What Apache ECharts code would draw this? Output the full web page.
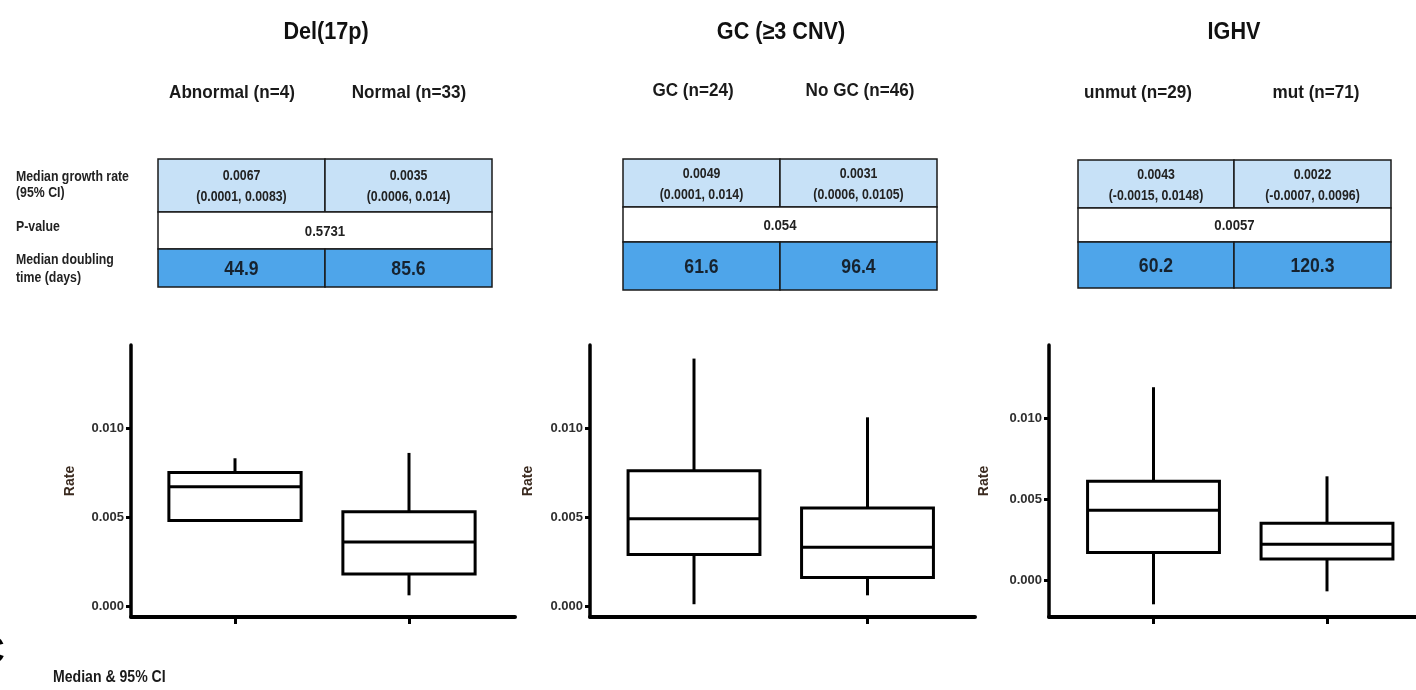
<!DOCTYPE html>
<html><head><meta charset="utf-8">
<script src="https://cdn.jsdelivr.net/npm/echarts@6/dist/echarts.min.js"></script>
<style>html,body{margin:0;padding:0;background:#fff}#c{width:1416px;height:690px}</style>
</head><body><div id="c"></div>
<script>
// ---------- data ----------
const panelTitles = ['Del(17p)', 'GC (≥3 CNV)', 'IGHV'];
const groupLabels = [['Abnormal (n=4)', 'Normal (n=33)'], ['GC (n=24)', 'No GC (n=46)'], ['unmut (n=29)', 'mut (n=71)']];
const medianRate = [['0.0067', '0.0035'], ['0.0049', '0.0031'], ['0.0043', '0.0022']];
const rateCI = [['(0.0001, 0.0083)', '(0.0006, 0.014)'], ['(0.0001, 0.014)', '(0.0006, 0.0105)'], ['(-0.0015, 0.0148)', '(-0.0007, 0.0096)']];
const pValues = ['0.5731', '0.054', '0.0057'];
const doublingDays = [['44.9', '85.6'], ['61.6', '96.4'], ['60.2', '120.3']];
const rowLabels = [['Median growth rate', '(95% CI)'], ['P-value'], ['Median doubling', 'time (days)']];
const yTicks = [0, 0.005, 0.010];
// box statistics: [min, q1, median, q3, max]
const delBox = [[0.0048, 0.0048, 0.0067, 0.0075, 0.0083], [0.0006, 0.0018, 0.0036, 0.0053, 0.0086]];
const gcBox = [[0.0001, 0.0029, 0.0049, 0.0076, 0.0139], [0.0006, 0.0016, 0.0033, 0.0055, 0.0106]];
const ighvBox = [[-0.0015, 0.0017, 0.0043, 0.0061, 0.0119], [-0.0007, 0.0013, 0.0022, 0.0035, 0.0064]];
const boxData = [delBox, gcBox, ighvBox];
const footNote = 'Median & 95% CI';
const cornerLetter = 'C';

// ---------- layout ----------
const FONT = "'Liberation Sans Narrow','Arial Narrow','Liberation Sans',Arial,sans-serif";
const LIGHT = '#c7e1f7';
const DARK = '#4ea5ea';
const layout = [
  { axisLeft: 131, axisRight: 515, c0: 235, c1: 409, top: 345, bottom: 617, yMax: 0.014663, yMin: -0.000618, rateGap: 54, xTicks: [0, 1],
    table: { x0: 158, xm: 325, x1: 492, y: [159, 212, 249, 287] }, titleX: 326, subX: [232, 409], subY: 93 },
  { axisLeft: 590, axisRight: 975, c0: 694, c1: 867.5, top: 345, bottom: 617, yMax: 0.014663, yMin: -0.000618, rateGap: 55, xTicks: [1],
    table: { x0: 623, xm: 780, x1: 937, y: [159, 207, 242, 290] }, titleX: 781, subX: [693, 860], subY: 91 },
  { axisLeft: 1049, axisRight: 1416, c0: 1153.5, c1: 1327, top: 345, bottom: 617, yMax: 0.014506, yMin: -0.002284, rateGap: 58, xTicks: [0, 1],
    table: { x0: 1078, xm: 1234, x1: 1391, y: [160, 208, 242, 288] }, titleX: 1234, subX: [1138, 1316], subY: 93 }
];

function txt(x, y, text, size, opts) {
  opts = opts || {};
  const a = opts.align || 'center';
  return { type: 'text', x: x, y: y, z: 10, silent: true, scaleX: opts.sx || 1,
    style: { text: text, font: (opts.weight || 'bold') + ' ' + size + 'px ' + FONT, fill: opts.color || '#1e1e1e',
      align: a, textAlign: a, verticalAlign: 'middle', textVerticalAlign: 'middle' } };
}
function cell(x, y, w, h, fill) {
  return { type: 'rect', z: 5, silent: true, shape: { x: x, y: y, width: w, height: h },
    style: { fill: fill, stroke: '#1a1a1a', lineWidth: 1.5 } };
}

const grids = [], xAxes = [], yAxes = [], series = [], graphics = [];
layout.forEach((L, p) => {
  const unit = L.c1 - L.c0;
  grids.push({ left: L.axisLeft, top: L.top, width: L.axisRight - L.axisLeft, height: L.bottom - L.top, containLabel: false });
  xAxes.push({ gridIndex: p, type: 'value', min: -(L.c0 - L.axisLeft) / unit, max: 1 + (L.axisRight - L.c1) / unit,
    axisLine: { show: true, onZero: false, lineStyle: { color: '#000', width: 4 } },
    axisTick: { show: true, customValues: L.xTicks, length: 7, lineStyle: { color: '#000', width: 3 } },
    axisLabel: { show: false }, splitLine: { show: false } });
  yAxes.push({ gridIndex: p, type: 'value', min: L.yMin, max: L.yMax,
    name: 'Rate', nameLocation: 'middle', nameGap: L.rateGap, nameRotate: 90,
    nameTextStyle: { fontFamily: FONT, fontWeight: 'bold', fontSize: 14, color: '#3a2a1f' },
    axisLine: { show: true, onZero: false, lineStyle: { color: '#000', width: 3.5 } },
    axisTick: { show: true, customValues: yTicks, length: 5, lineStyle: { color: '#000', width: 3 } },
    axisLabel: { show: true, customValues: yTicks, formatter: v => v.toFixed(3), margin: 7, fontFamily: FONT, fontWeight: 'bold', fontSize: 13, color: '#2e2e2e' },
    splitLine: { show: false } });
  series.push({ type: 'custom', xAxisIndex: p, yAxisIndex: p, clip: false,
    data: boxData[p].map((b, i) => [i].concat(b)),
    encode: { x: 0, y: [1, 2, 3, 4, 5] },
    renderItem: function (params, api) {
      const idx = api.value(0);
      const lo = api.coord([idx, api.value(1)]);
      const q1 = api.coord([idx, api.value(2)]);
      const med = api.coord([idx, api.value(3)]);
      const q3 = api.coord([idx, api.value(4)]);
      const hi = api.coord([idx, api.value(5)]);
      const half = api.size([1, 0])[0] * 0.38;
      const x = med[0];
      const st = { stroke: '#000', lineWidth: 3, fill: null };
      return { type: 'group', children: [
        { type: 'line', shape: { x1: x, y1: hi[1], x2: x, y2: q3[1] }, style: st },
        { type: 'line', shape: { x1: x, y1: q1[1], x2: x, y2: lo[1] }, style: st },
        { type: 'rect', shape: { x: x - half, y: q3[1], width: 2 * half, height: q1[1] - q3[1] }, style: { stroke: '#000', lineWidth: 3, fill: '#fff' } },
        { type: 'line', shape: { x1: x - half, y1: med[1], x2: x + half, y2: med[1] }, style: st }
      ] };
    } });

  // titles
  graphics.push(txt(L.titleX, 32, panelTitles[p], 24, { color: '#111', sx: 0.9 }));
  groupLabels[p].forEach((g, i) => graphics.push(txt(L.subX[i], L.subY, g, 19, { color: '#1a1a1a', sx: 0.9 })));
  // table
  const T = L.table, y = T.y;
  graphics.push(cell(T.x0, y[0], T.xm - T.x0, y[1] - y[0], LIGHT));
  graphics.push(cell(T.xm, y[0], T.x1 - T.xm, y[1] - y[0], LIGHT));
  graphics.push(cell(T.x0, y[1], T.x1 - T.x0, y[2] - y[1], '#fff'));
  graphics.push(cell(T.x0, y[2], T.xm - T.x0, y[3] - y[2], DARK));
  graphics.push(cell(T.xm, y[2], T.x1 - T.xm, y[3] - y[2], DARK));
  const cx = [(T.x0 + T.xm) / 2, (T.xm + T.x1) / 2];
  const m1 = (y[0] + y[1]) / 2;
  [0, 1].forEach(i => {
    graphics.push(txt(cx[i], m1 - 9, medianRate[p][i], 14, { color: '#222', sx: 0.88 }));
    graphics.push(txt(cx[i], m1 + 12, rateCI[p][i], 14, { color: '#222', sx: 0.88 }));
    graphics.push(txt(cx[i], (y[2] + y[3]) / 2 + 1, doublingDays[p][i], 20, { color: '#16222e', sx: 0.88 }));
  });
  graphics.push(txt((T.x0 + T.x1) / 2, (y[1] + y[2]) / 2 + 1, pValues[p], 15, { color: '#222', sx: 0.88 }));
});

// row labels of first table
graphics.push(txt(16, 177, rowLabels[0][0], 14, { align: 'left', color: '#222', sx: 0.88 }));
graphics.push(txt(16, 193, rowLabels[0][1], 14, { align: 'left', color: '#222', sx: 0.88 }));
graphics.push(txt(16, 227, rowLabels[1][0], 14, { align: 'left', color: '#222', sx: 0.88 }));
graphics.push(txt(16, 260, rowLabels[2][0], 14, { align: 'left', color: '#222', sx: 0.88 }));
graphics.push(txt(16, 278, rowLabels[2][1], 14, { align: 'left', color: '#222', sx: 0.88 }));
// footnote and cut-off panel letter
graphics.push(txt(53, 678, footNote, 16, { align: 'left', color: '#1a1a1a', sx: 0.88 }));
graphics.push(txt(5, 653, cornerLetter, 40, { align: 'right', color: '#000' }));

const chart = echarts.init(document.getElementById('c'), null, { renderer: 'canvas' });
chart.setOption({
  backgroundColor: '#fff',
  animation: false,
  grid: grids, xAxis: xAxes, yAxis: yAxes, series: series,
  graphic: { elements: graphics }
});
</script>
</body></html>
